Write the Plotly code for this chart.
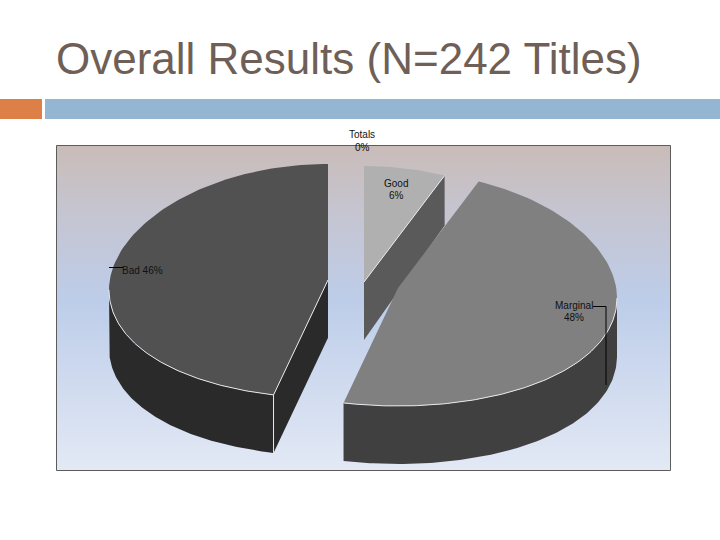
import numpy as np
import plotly.graph_objects as go

# ---- data
title_text = "Overall Results (N=242 Titles)"
categories = ["Good", "Marginal", "Bad", "Totals"]
percentages = [6, 48, 46, 0]

# ---- styling / layout of the 3-D pie
top_colors = {"Good": "#b0b0b0", "Marginal": "#808080", "Bad": "#515151"}
wall_colors = {"Good": "#5a5a5a", "Marginal": "#404040", "Bad": "#2a2a2a"}
tips = {"Good": (364, 282), "Marginal": (398, 288), "Bad": (328, 280)}
RX, RY_BACK, RY_FRONT, SAG = 219, 116, 118, 10
draw_order = ["Good", "Marginal", "Bad"]
RIM = "#e6e8ee"


def depth(y):
    return np.minimum(58, 50 + (np.asarray(y, float) - 175) * 8 / 107)


def arc(cat, a0, a1, n=120):
    t = np.radians(np.linspace(a0, a1, n))
    cx, cy = tips[cat]
    c = np.cos(t)
    ry = np.where(c > 0, RY_BACK, RY_FRONT)
    return cx + RX * np.sin(t), cy - ry * c + SAG * np.sin(t) ** 2


fig = go.Figure()


def poly(x, y, color, gradient=None, line=None):
    kw = dict(fillgradient=gradient) if gradient else dict(fillcolor=color)
    fig.add_trace(go.Scatter(x=list(x), y=list(y), mode="lines", fill="toself",
                             line=line or dict(width=0), hoverinfo="skip",
                             showlegend=False, **kw))


def stroke(x, y, color=RIM, width=1):
    fig.add_trace(go.Scatter(x=list(x), y=list(y), mode="lines",
                             line=dict(color=color, width=width),
                             hoverinfo="skip", showlegend=False))


# header bars
poly([0, 42, 42, 0], [99, 99, 119, 119], "#dd8047")
poly([45, 720, 720, 45], [99, 99, 119, 119], "#94b6d2")

# plot area with gradient
poly([56.5, 670.5, 670.5, 56.5, 56.5], [145.5, 145.5, 470.5, 470.5, 145.5], None,
     gradient=dict(type="vertical", colorscale=[
         [0, "#e3e9f5"], [0.52, "#bdcde9"], [0.78, "#c5c5d2"], [1, "#c9bcb8"]]),
     line=dict(color="#5c5c5c", width=1))

# slices, angles derived from the values
cum = np.cumsum([0] + percentages) * 3.6
ang = {c: (cum[i], cum[i + 1]) for i, c in enumerate(categories)}

for cat in draw_order:
    a0, a1 = ang[cat]
    tx, ty = tips[cat]
    ax, ay = arc(cat, a0, a1)
    # outer wall (only the part facing the viewer)
    lo, hi = max(a0, 90), min(a1, 270)
    if lo < hi:
        wx, wy = arc(cat, lo, hi)
        poly(np.r_[wx, wx[::-1]], np.r_[wy, (wy + depth(wy))[::-1]], wall_colors[cat])
    # visible cut face
    if cat == "Good":
        ex, ey = ax[-1], ay[-1]
    elif cat == "Bad":
        ex, ey = ax[0], ay[0]
    else:
        ex, ey = None, None
    if ex is not None:
        poly([tx, ex, ex, tx], [ty, ey, ey + depth(ey), ty + depth(ty)], wall_colors[cat])
    # top
    poly(np.r_[tx, ax], np.r_[ty, ay], top_colors[cat])
    # thin light rim lines
    if lo < hi:
        stroke(*arc(cat, lo, hi))
    if ex is not None:
        stroke([tx, ex], [ty, ey])
    if cat == "Bad":
        stroke([ex, ex], [ey, ey + depth(ey)])

# leader lines
stroke([109, 123], [267.5, 267.5], "#000000")
stroke([593, 606, 606], [306.5, 306.5, 385], "#000000")

pct = dict(zip(categories, percentages))
labels = [
    (362, 134, "Totals"), (362, 147, f"{pct['Totals']}%"),
    (396, 183, "Good"), (396, 195, f"{pct['Good']}%"),
    (574, 305, "Marginal"), (574, 317, f"{pct['Marginal']}%"),
    (142, 270, f"Bad {pct['Bad']}%"),
]
anns = [dict(x=x, y=y, text=t, showarrow=False, xanchor="center", yanchor="middle",
             font=dict(family="Liberation Sans", size=10, color="#111111"))
        for x, y, t in labels]
anns.append(dict(x=56, y=58, text=title_text, showarrow=False, xanchor="left", yanchor="middle",
                 xshift=-2,
                 font=dict(family="Liberation Sans", size=44, color="#6f5f57")))

fig.update_layout(
    width=720, height=540, margin=dict(l=0, r=0, t=0, b=0),
    paper_bgcolor="#ffffff", plot_bgcolor="#ffffff", showlegend=False,
    xaxis=dict(range=[0, 720], visible=False, fixedrange=True),
    yaxis=dict(range=[540, 0], visible=False, fixedrange=True),
    annotations=anns,
)
fig.write_html("out.html", config={"displayModeBar": False},
               post_script="document.body.style.margin='0';document.documentElement.style.overflow='hidden';")
